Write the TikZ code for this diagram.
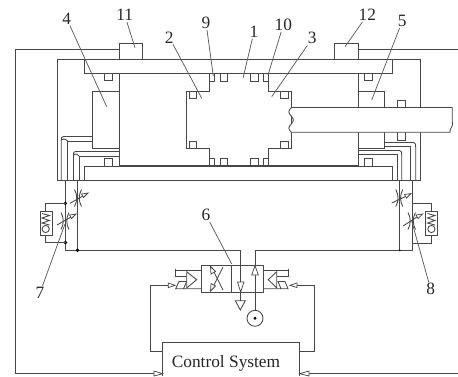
\documentclass[tikz,border=0pt]{standalone}
\usepackage{fontspec}
\setmainfont{Liberation Serif}
\tikzset{
	wire/.style={draw=black!72,line width=0.65pt},
	head/.style={draw=black!72,line width=0.55pt,fill=white},
	digit/.style={inner sep=0.75pt,font=\fontsize{13}{13}\selectfont,text=black!85},
	leader/.style={draw=black!65,line width=0.55pt}
}
\begin{document}
\begin{tikzpicture}[x=0.75pt,y=0.75pt,yscale=-1,xscale=1]
	\useasboundingbox (0,0) rectangle (458,376);
	% housing
	\draw [wire] (57,59.5) rectangle (420.7,180.5);
	\draw [wire] (84.5,59.5) -- (84.5,73) -- (392.3,73) -- (392.3,59.5);
	\draw [wire] (84.5,180.5) -- (84.5,166) -- (392.3,166) -- (392.3,180.5);
	% sensors
	\draw [wire] (119,59.5) -- (119,43.5) -- (142.5,43.5) -- (142.5,59.5);
	\draw [wire] (334.7,59.5) -- (334.7,43.5) -- (358,43.5) -- (358,59.5);
	\draw [wire] (119,49) -- (15,49) -- (15,373.7) -- (154,373.7);
	\draw [wire] (358,49) -- (458,49);
	\draw [wire] (309,373.7) -- (458,373.7);
	% piston and chambers
	\draw [wire] (119,73) -- (119,166);
	\draw [wire] (358,73) -- (358,166);
	\draw [wire] (92.5,91) rectangle (119,148.5);
	\draw [wire] (358,91) rectangle (384.7,148.5);
	\draw [wire] (119,165.6) -- (358,165.6);
	\draw [wire] (209.5,73) -- (209.5,91) -- (186,91) -- (186,148.5) -- (209.5,148.5) -- (209.5,166);
	\draw [wire] (268,73) -- (268,91) -- (291.3,91) -- (291.3,148.5) -- (268,148.5) -- (268,166);
	% seals
	\draw [wire] (104.5,73) rectangle (112.5,80.5);
	\draw [wire] (104.5,158) rectangle (112.5,166);
	\draw [wire] (209.5,73) rectangle (214,81);
	\draw [wire] (209.5,158) rectangle (214,166);
	\draw [wire] (220,73) rectangle (227.7,81);
	\draw [wire] (220,158) rectangle (227.7,166);
	\draw [wire] (250.7,73) rectangle (258.3,81);
	\draw [wire] (250.7,158) rectangle (258.3,166);
	\draw [wire] (263.3,73) rectangle (268,81);
	\draw [wire] (263.3,158) rectangle (268,166);
	\draw [wire] (364.3,73) rectangle (372.3,80.5);
	\draw [wire] (364.3,158) rectangle (372.3,166);
	\draw [wire] (189,91) rectangle (196.7,98.5);
	\draw [wire] (189,141) rectangle (196.7,148.5);
	\draw [wire] (280,91) rectangle (288.3,98.5);
	\draw [wire] (280,141) rectangle (288.3,148.5);
	\draw [wire] (397.3,100) rectangle (405,140);
	% rod
	\draw [wire,fill=white] (291.3,107.5) -- (452.3,107.5) -- (452.3,122) .. controls (454,126) and (449,129) .. (450,132.3) -- (291.3,132.3)
		.. controls (288,129) and (288,127) .. (291.3,124) .. controls (294,121) and (294,119) .. (291.3,116) .. controls (288,113) and (288,111) .. (291.3,107.5) -- cycle;
	% left pipes
	\draw [wire] (92.5,136.5) -- (63.5,136.5) .. controls (61.3,136.5) and (61.3,138) .. (61.3,140) -- (61.3,180.5);
	\draw [wire] (92.5,141) -- (67.7,141) -- (67.7,180.5);
	\draw [wire] (61.3,140) .. controls (62,138.5) and (65,138.5) .. (67.7,141);
	\draw [wire] (119,151.5) -- (75.5,151.5) .. controls (73.5,151.5) and (73.5,153) .. (73.5,155) -- (73.5,180.5);
	\draw [wire] (119,156) -- (79,156) -- (79,180.5);
	\draw [wire] (73.5,155) .. controls (74,153.5) and (77,153.5) .. (79,156);
	% right pipes
	\draw [wire] (384.7,142.5) -- (413.5,142.5) .. controls (415.7,142.5) and (415.7,145) .. (415.7,147) -- (415.7,180.5);
	\draw [wire] (384.7,146) -- (410,146) -- (410,180.5);
	\draw [wire] (358,150.5) -- (399.5,150.5) .. controls (401.7,150.5) and (401.7,153) .. (401.7,155) -- (401.7,180.5);
	\draw [wire] (358,154.5) -- (397.3,154.5) -- (397.3,180.5);
	% supply lines
	\draw [wire] (65.5,180.5) -- (65.5,250.3) -- (240.7,250.3) -- (240.7,300.7);
	\draw [wire] (77.5,180.5) -- (77.5,250.3);
	\draw [wire] (255,310) -- (255,250.3) -- (412,250.3) -- (412,180.5);
	\draw [wire] (399.7,180.5) -- (399.7,250.3);
	\fill [black] (65.4,203.3) circle (1.9) (65.4,242.5) circle (1.9) (77.5,250.3) circle (1.9) (399.7,250.3) circle (1);
	% left bypass
	\draw [wire] (65.5,203.3) -- (45.7,203.3) -- (45.7,211.7);
	\draw [wire] (65.5,242.5) -- (45.7,242.5) -- (45.7,235);
	\draw [wire] (40,211.7) rectangle (52.7,235);
	\draw [wire] (42,213.5) -- (49.5,215.5) -- (42,218) -- (49.5,220.5) -- (42,223) -- (49.5,225);
	\draw [wire] (45.7,229) circle (3.6);
	% right bypass
	\draw [wire] (412,203.5) -- (431.7,203.5) -- (431.7,211.7);
	\draw [wire] (412,243) -- (431.7,243) -- (431.7,235);
	\draw [wire] (425.7,211.7) rectangle (437,235);
	\draw [wire] (427.5,213.5) -- (435,215.5) -- (427.5,218) -- (435,220.5) -- (427.5,223) -- (435,225);
	\draw [wire] (431.4,229) circle (3.6);
	% throttles
	\draw [wire] (74.5,189.5) .. controls (77.5,195) and (77.5,201) .. (74.5,206.5);
	\draw [wire] (81.5,189.5) .. controls (78.5,195) and (78.5,201) .. (81.5,206.5);
	\draw [wire] (70,203.3) -- (83,196);
	\draw [head] (88,193) -- (81.5,194) -- (83.5,197.5) -- cycle;
	\draw [wire] (61,212.5) .. controls (64,218) and (64,224) .. (61,229.5);
	\draw [wire] (69,212.5) .. controls (66,218) and (66,224) .. (69,229.5);
	\draw [wire] (57,225) -- (71,217);
	\draw [head] (76,214) -- (69.5,215) -- (71.5,218.5) -- cycle;
	\draw [wire] (395.8,189.5) .. controls (398.8,195) and (398.8,201) .. (395.8,206.5);
	\draw [wire] (402.8,189.5) .. controls (399.8,195) and (399.8,201) .. (402.8,206.5);
	\draw [wire] (391.7,203) -- (405.5,196.5);
	\draw [head] (411,193.5) -- (404.5,194.5) -- (406.5,198) -- cycle;
	\draw [wire] (408,212.5) .. controls (411,218) and (411,224) .. (408,229.5);
	\draw [wire] (415.5,212.5) .. controls (412.5,218) and (412.5,224) .. (415.5,229.5);
	\draw [wire] (403,226) -- (417,217);
	\draw [head] (422.7,214) -- (416,215) -- (418,218.5) -- cycle;
	% directional valve
	\draw [wire] (201,265) rectangle (263.7,292.7);
	\draw [wire] (231.7,265) -- (231.7,292.7);
	\draw [wire] (223,267) -- (211.5,290);
	\draw [wire] (223,290) -- (211.5,267);
	\draw [head] (210.5,266.5) -- (211,274) -- (215.5,271.5) -- cycle;
	\draw [head] (210.5,291) -- (211,283.5) -- (215.5,286) -- cycle;
	\draw [head] (237.5,282) -- (244,282) -- (240.7,292) -- cycle;
	\draw [head] (251.7,275) -- (258.3,275) -- (255,265.5) -- cycle;
	\draw [wire] (235.3,300.7) -- (245.3,300.7) -- (240.3,310) -- cycle;
	\draw [wire] (255,318.3) circle (8);
	\fill [black] (255,318.3) circle (1.6);
	% left pilot
	\draw [wire] (201,270.5) -- (175.7,270.5);
	\draw [wire] (175.7,268.5) -- (175.7,276) -- (186.7,276);
	\draw [wire] (201,288.7) -- (175.7,288.7) -- (179,281.5) -- (186.7,281.5) -- (183.5,288.7);
	\draw [wire,fill=white] (186.7,271.7) -- (196.7,279.7) -- (186.7,288) -- cycle;
	\draw [head] (168.3,283) -- (175,285.3) -- (168.3,287.6) -- cycle;
	\draw [wire] (168.3,285.3) -- (150,285.3) -- (150,351) -- (162.7,351);
	% right pilot
	\draw [wire] (263.7,270.5) -- (288.3,270.5);
	\draw [wire] (288.3,268.5) -- (288.3,276) -- (276.7,276);
	\draw [wire] (263.7,288.7) -- (288,288.7) -- (285,281.5) -- (278,281.5) -- (281,288.7);
	\draw [wire,fill=white] (276.7,271.7) -- (268.3,279.7) -- (276.7,288) -- cycle;
	\draw [head] (297,283) -- (290,285.3) -- (297,287.6) -- cycle;
	\draw [wire] (297,285.3) -- (314.7,285.3) -- (314.7,351) -- (299.7,351);
	% control system
	\draw [wire] (162.7,376) -- (162.7,342.7) -- (299.7,342.7) -- (299.7,376);
	\draw [head] (154,371) -- (162.7,373.7) -- (154,376) -- cycle;
	\draw [head] (309,371) -- (299.7,373.7) -- (309,376) -- cycle;
	\node (ctrl) at (226,363) [digit] {Control System};
	% labels
	\node (num1) at (254,31.7) [digit] {1};
	\node (num2) at (169.3,37.3) [digit] {2};
	\node (num3) at (312.3,38.3) [digit] {3};
	\node (num4) at (66.7,18.5) [digit] {4};
	\node (num5) at (402.3,21) [digit] {5};
	\node (num6) at (206,215) [digit] {6};
	\node (num7) at (40,292.7) [digit] {7};
	\node (num8) at (430.7,289.3) [digit] {8};
	\node (num9) at (206,22.7) [digit] {9};
	\node (num10) at (283.3,25) [digit] {10};
	\node (num11) at (124.7,15) [digit] {11};
	\node (num12) at (367.3,15) [digit] {12};
	\coordinate (tip1) at (243,78.3);
	\coordinate (tip2) at (201.7,98.3);
	\coordinate (tip3) at (271.7,96.7);
	\coordinate (tip4) at (106.7,106.7);
	\coordinate (tip5) at (371.7,100);
	\coordinate (tip6) at (231.7,264);
	\coordinate (tip7) at (65,224);
	\coordinate (tip8) at (411.7,221);
	\coordinate (tip9) at (213.3,76);
	\coordinate (tip10) at (268,75);
	\coordinate (tip11) at (135,47.7);
	\coordinate (tip12) at (345,46.7);
	\draw [leader] (num1) -- (tip1);
	\draw [leader] (num2) -- (tip2);
	\draw [leader] (num3) -- (tip3);
	\draw [leader] (num4) -- (tip4);
	\draw [leader] (num5) -- (tip5);
	\draw [leader] (num6) -- (tip6);
	\draw [leader] (num7) -- (tip7);
	\draw [leader] (num8) -- (tip8);
	\draw [leader] (num9) -- (tip9);
	\draw [leader] (num10) -- (tip10);
	\draw [leader] (num11) -- (tip11);
	\draw [leader] (num12) -- (tip12);
\end{tikzpicture}
\end{document}
